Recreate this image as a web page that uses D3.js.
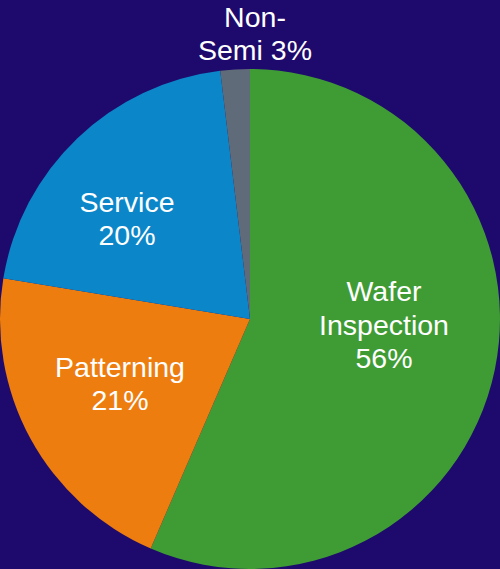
<!DOCTYPE html>
<html>
<head>
<meta charset="utf-8">
<script src="https://cdn.jsdelivr.net/npm/d3@7"></script>
<style>
  html, body { margin: 0; padding: 0; background: #1e0a6c; }
  svg { display: block; }
</style>
</head>
<body>
<div id="chart"></div>
<script>
// segment shares as drawn (slice sizes), and the printed labels
const segments = ['Wafer Inspection', 'Patterning', 'Service', 'Non-Semi'];
const shares   = [56.5, 21.1, 20.5, 1.9];
const labelLines = [
  ['Wafer', 'Inspection', '56%'],
  ['Patterning', '21%'],
  ['Service', '20%'],
  ['Non-', 'Semi 3%']
];
const colors = ['#3f9c35', '#ee7d10', '#0b87c9', '#5f6b78'];

const W = 500, H = 569;
const cx = 250, cy = 319, R = 250;

const svg = d3.select('#chart').append('svg')
    .attr('width', W)
    .attr('height', H);

svg.append('rect')
    .attr('width', W).attr('height', H)
    .attr('fill', '#1e0a6c');

const pie = d3.pie().sort(null).value(d => d)(shares);
const arc = d3.arc().innerRadius(0).outerRadius(R);

const g = svg.append('g').attr('transform', `translate(${cx},${cy})`);

g.selectAll('path')
  .data(pie)
  .enter().append('path')
    .attr('d', arc)
    .attr('fill', (d, i) => colors[i]);

// label anchors (centre of text block)
const labelPos = [[384, 325], [120, 383.5], [127, 218.5], [255, 33.5]];
const lineH = 33.5;

labelLines.forEach((lines, i) => {
  const t = svg.append('text')
      .attr('text-anchor', 'middle')
      .attr('font-family', 'Liberation Sans, Arial, sans-serif')
      .attr('font-size', 28.5)
      .attr('fill', '#ffffff');
  const y0 = labelPos[i][1] - (lines.length - 1) * lineH / 2;
  lines.forEach((s, j) => {
    t.append('tspan')
      .attr('x', labelPos[i][0])
      .attr('y', y0 + j * lineH)
      .attr('dy', '0.35em')
      .text(s);
  });
});
</script>
</body>
</html>
